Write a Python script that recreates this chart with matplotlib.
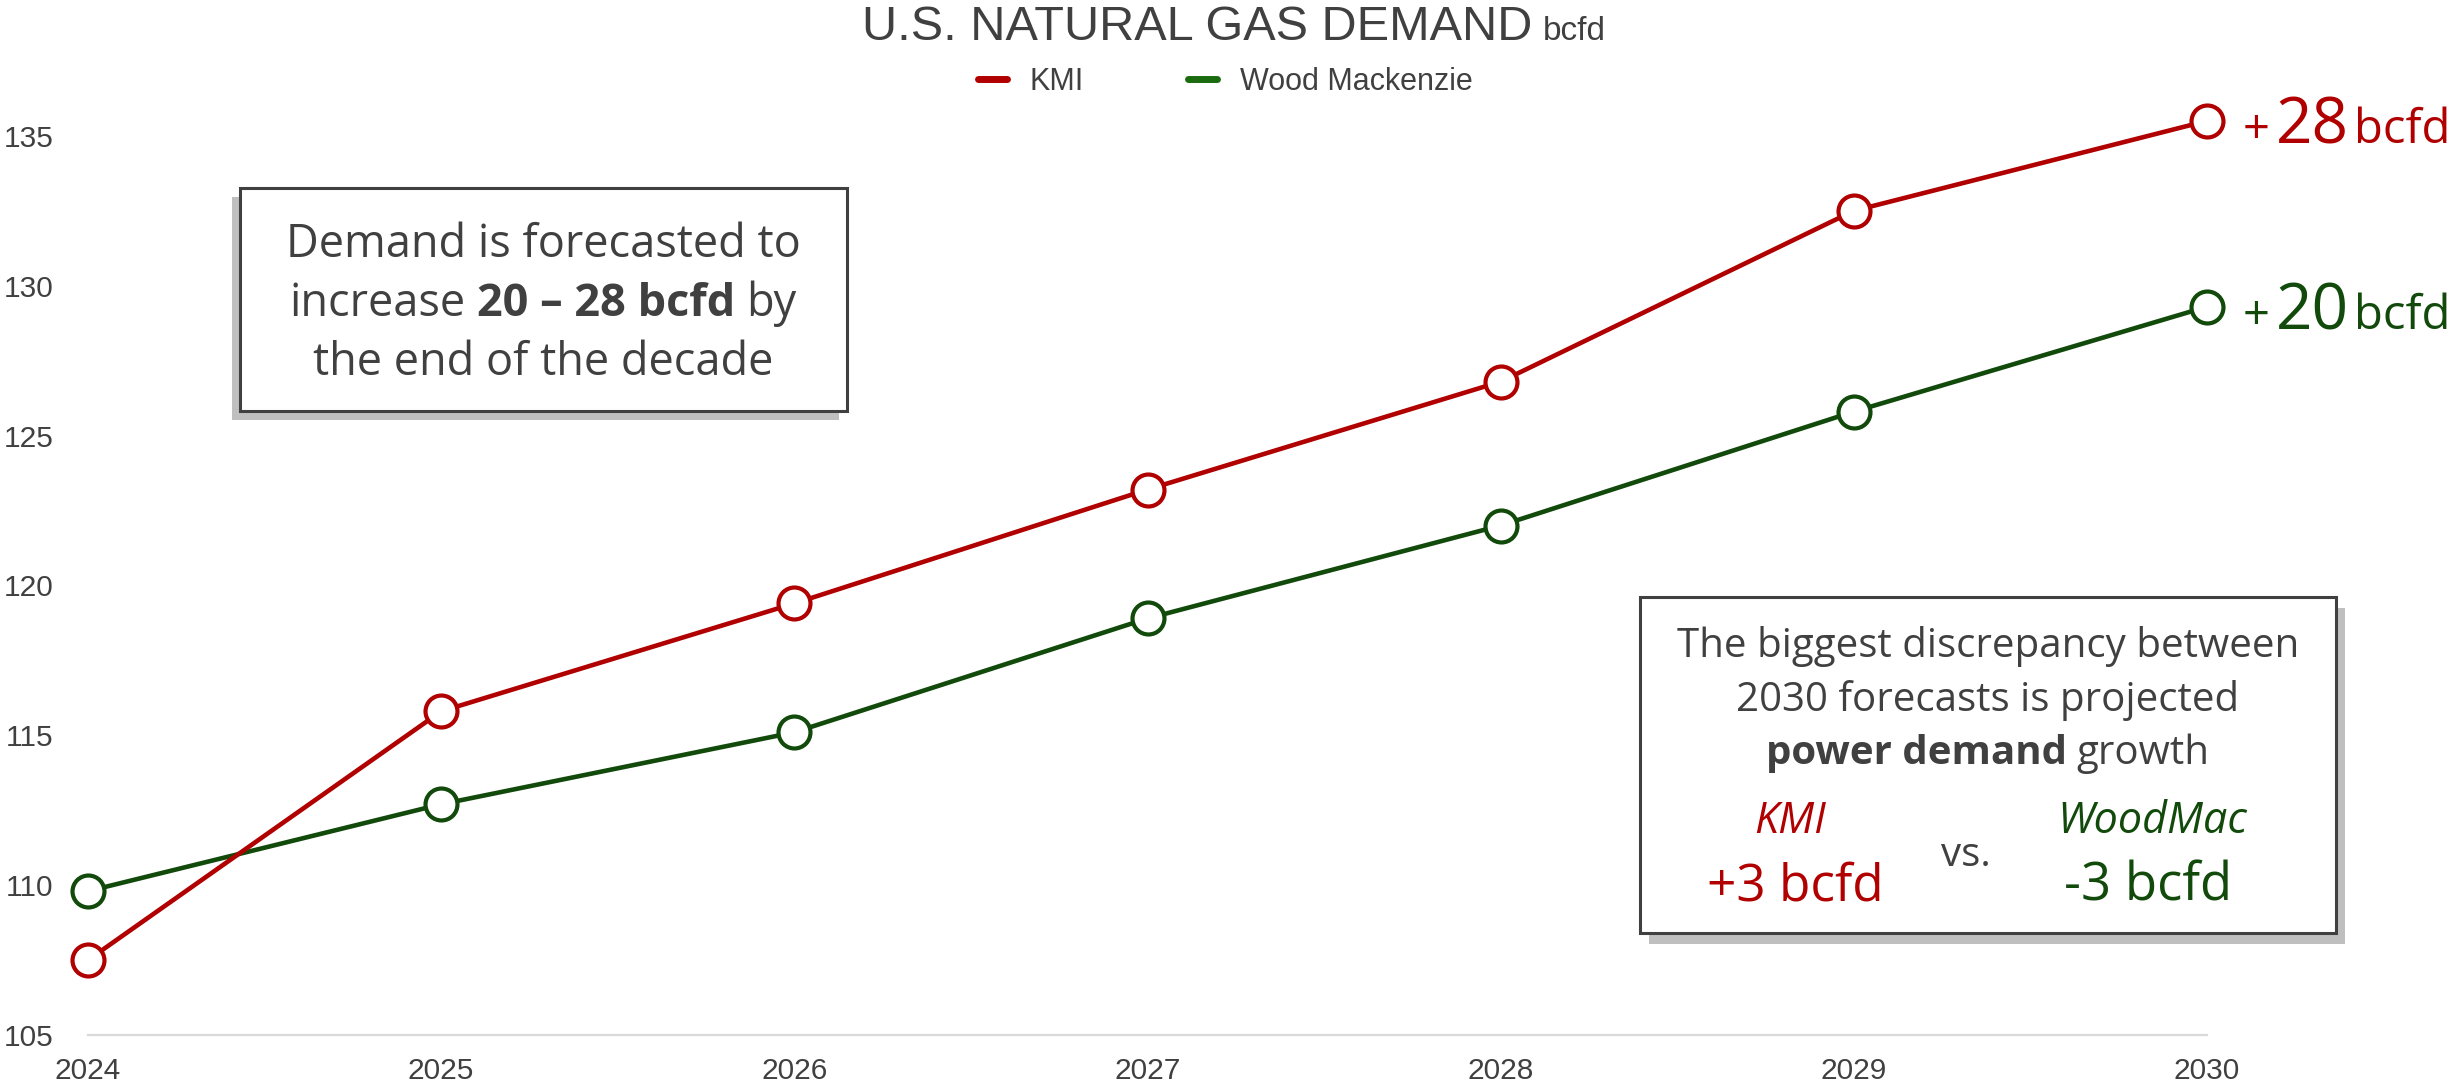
import matplotlib
matplotlib.use('Agg')
import matplotlib.pyplot as plt
from matplotlib.patches import Rectangle
from matplotlib.lines import Line2D
from matplotlib.offsetbox import TextArea, HPacker, VPacker, AnnotationBbox

# data (bcfd)
years = [2024, 2025, 2026, 2027, 2028, 2029, 2030]
kmi = [107.5, 115.8, 119.4, 123.2, 126.8, 132.5, 135.5]
woodmac = [109.8, 112.7, 115.1, 118.9, 122.0, 125.8, 129.3]
y_ticks = [105, 110, 115, 120, 125, 130, 135]
series_names = ['KMI', 'Wood Mackenzie']
growth_labels = ['+28', '+20']
power_growth = ['+3 bcfd', '-3 bcfd']

RED = '#B00000'
GREEN = '#114A0B'
GREEN_LEG = '#1A6A10'
GREY = '#404040'
BOX_FONT = 'Open Sans'
AX_FONT = 'Liberation Sans'

W, H = 2458, 1091
fig = plt.figure(figsize=(W / 100, H / 100), dpi=100)


def fx(x):
    return x / W


def fy(y):
    return 1 - y / H


ax = fig.add_axes([fx(88), fy(1035), fx(2207 - 88), (1035 - 46) / H])
ax.set_xlim(2024, 2030)
ax.set_ylim(105, 138)

ax.plot(years, kmi, color=RED, lw=3.3, marker='o', ms=23, mfc='white',
        mec=RED, mew=3, clip_on=False, zorder=4)
ax.plot(years, woodmac, color=GREEN, lw=3.3, marker='o', ms=23, mfc='white',
        mec=GREEN, mew=3, clip_on=False, zorder=3)

for s in ['top', 'right', 'left']:
    ax.spines[s].set_visible(False)
ax.spines['bottom'].set_color('#D9D9D9')
ax.spines['bottom'].set_linewidth(1.6)
ax.set_xticks(years)
ax.set_yticks(y_ticks)
ax.tick_params(length=0, labelsize=21.5, labelcolor=GREY)
ax.tick_params(axis='x', pad=16)
ax.tick_params(axis='y', pad=25)
for lab in ax.get_xticklabels() + ax.get_yticklabels():
    lab.set_fontfamily(AX_FONT)


def ta(text, size, color=GREY, weight='normal', style='normal', family=BOX_FONT):
    return TextArea(text, textprops=dict(family=family, size=size, color=color,
                                         weight=weight, style=style))


def place(box, x, y, align=(0.5, 0.5), z=7):
    ab = AnnotationBbox(box, (fx(x), fy(y)), xycoords='figure fraction',
                        frameon=False, box_alignment=align, pad=0, zorder=z)
    fig.add_artist(ab)


# title
title = HPacker(children=[ta('U.S. NATURAL GAS DEMAND', 35, family=AX_FONT),
                          ta('bcfd', 24, family=AX_FONT)],
                align='baseline', pad=0, sep=8)
place(title, 1234, 28)

# legend
handles = [Line2D([], [], color=RED, lw=5, solid_capstyle='round'),
           Line2D([], [], color=GREEN_LEG, lw=5, solid_capstyle='round')]
leg = fig.legend(handles, series_names, loc='center', bbox_to_anchor=(fx(1225), fy(82)),
                 ncol=2, frameon=False, handlelength=0.95, handletextpad=0.75,
                 columnspacing=3.4, prop=dict(family=AX_FONT, size=22))
for t in leg.get_texts():
    t.set_color(GREY)


# annotation boxes with drop shadow
def framed(x0, y0, x1, y1, dx, dy):
    fig.add_artist(Rectangle((fx(x0 + dx), fy(y1 + dy)), fx(x1 - x0), (y1 - y0) / H,
                             transform=fig.transFigure, facecolor='#BFBFBF',
                             edgecolor='none', zorder=5))
    fig.add_artist(Rectangle((fx(x0), fy(y1)), fx(x1 - x0), (y1 - y0) / H,
                             transform=fig.transFigure, facecolor='white',
                             edgecolor=GREY, lw=2.2, zorder=6))


framed(240, 188, 847, 411, -8, 9)
framed(1640, 597, 2336, 933, 9, 11)

S1 = 32.5
box1 = VPacker(children=[
    HPacker(children=[ta('Demand is forecasted to', S1)], pad=0, sep=0),
    HPacker(children=[ta('increase', S1), ta('20 \u2013 28 bcfd', S1, weight='bold'),
                      ta('by', S1)], align='baseline', pad=0, sep=8),
    HPacker(children=[ta('the end of the decade', S1)], pad=0, sep=0),
], align='center', pad=0, sep=9)
place(box1, 543, 304)

S2 = 29
box2 = VPacker(children=[
    HPacker(children=[ta('The biggest discrepancy between', S2)], pad=0, sep=0),
    HPacker(children=[ta('2030 forecasts is projected', S2)], pad=0, sep=0),
    HPacker(children=[ta('power demand', S2, weight='bold'), ta('growth', S2)],
            align='baseline', pad=0, sep=7),
], align='center', pad=0, sep=9)
place(box2, 1988, 700)

fig.text(fx(1790), fy(822), series_names[0], family=BOX_FONT, style='italic',
         size=31, color=RED, ha='center', va='center', zorder=8)
fig.text(fx(1795), fy(887), power_growth[0], family=BOX_FONT, size=37,
         color=RED, ha='center', va='center', zorder=8)
fig.text(fx(1966), fy(856), 'vs.', family=BOX_FONT, size=29,
         color=GREY, ha='center', va='center', zorder=8)
fig.text(fx(2152), fy(822), 'WoodMac', family=BOX_FONT, style='italic',
         size=31, color=GREEN, ha='center', va='center', zorder=8)
fig.text(fx(2148), fy(887), power_growth[1], family=BOX_FONT, size=38,
         color=GREEN, ha='center', va='center', zorder=8)

# growth labels at the 2030 points
for vals, lab, col in [(kmi, growth_labels[0], RED), (woodmac, growth_labels[1], GREEN)]:
    pk = HPacker(children=[ta(lab[0], 34, color=col), ta(lab[1:], 46, color=col),
                           ta('bcfd', 34, color=col)],
                 align='baseline', pad=0, sep=4)
    ab = AnnotationBbox(pk, (2030, vals[-1]), xybox=(26, -4), boxcoords='offset points',
                        frameon=False, box_alignment=(0, 0.5), pad=0,
                        annotation_clip=False)
    ax.add_artist(ab)

fig.savefig('out.png', dpi=100, facecolor='white')
